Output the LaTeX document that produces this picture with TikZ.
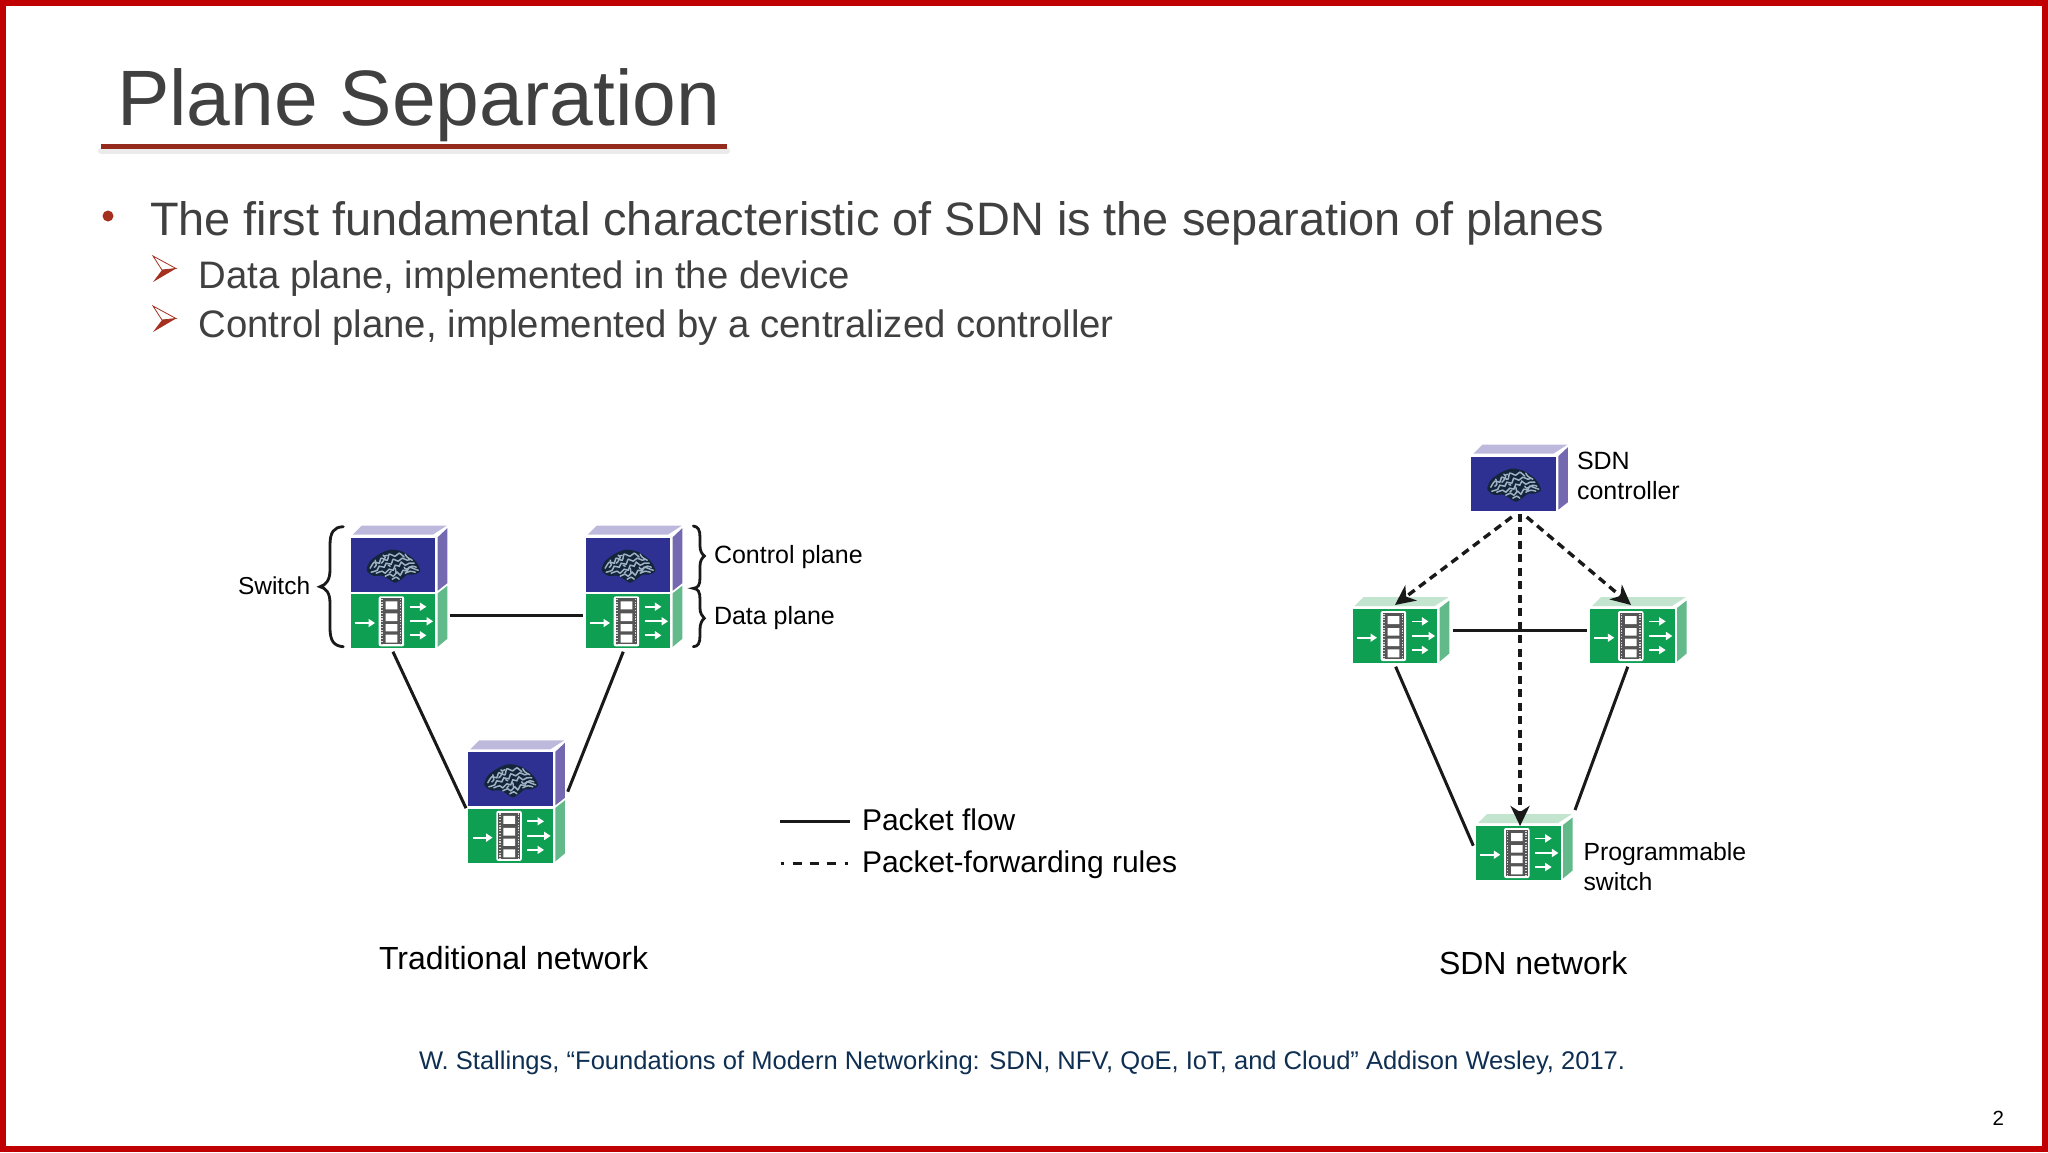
\documentclass[tikz,border=0pt]{standalone}
\usepackage{fontspec}
\setmainfont{Liberation Sans}
\usetikzlibrary{arrows.meta}
\definecolor{slidered}{HTML}{C00000}
\definecolor{rust}{HTML}{A5301F}
\definecolor{bodygrey}{HTML}{404040}
\definecolor{citeblue}{HTML}{0F2F52}
\definecolor{bfront}{HTML}{2E3192}
\definecolor{bside}{HTML}{7469B0}
\definecolor{btop}{HTML}{BDB9DC}
\definecolor{gfront}{HTML}{0E9F53}
\definecolor{gside}{HTML}{62B98A}
\definecolor{gtop}{HTML}{C3E4CF}
\definecolor{filmgrey}{HTML}{555555}
\definecolor{brainlight}{HTML}{9DB2C2}
\definecolor{braindark}{HTML}{14243A}
\newcommand{\fs}[1]{\fontsize{#1}{#1}\selectfont}
\newcommand{\ctrlbody}{%
    \node[frontface,fill=bfront] (-b) at (0,0) {};
    \fill[btop] (2,-3) -- (82,-3) -- (96,-12) -- (11,-12) -- cycle;
    \fill[bside] (87,-0.5) -- (96.6,-9.5) -- (96.6,45.5) -- (87,53) -- cycle;
    \pic at (42.5,28.5) {brain};
}
\newcommand{\databody}{%
    \node[frontface,fill=gfront] (-g) at (0,0) {};
    \fill[gside] (87,-1) -- (96.6,-8.5) -- (96.6,44.5) -- (87,52.5) -- cycle;
    \fill[white,rounded corners=2pt] (28,2) rectangle (53.5,52);
    \fill[filmgrey] (30,4) rectangle (51.5,50);
    \draw[white!85!black,line width=1.5pt,dash pattern=on 1.2pt off 1.6pt] (31.5,4.5) -- (31.5,49.5);
    \draw[white!85!black,line width=1.5pt,dash pattern=on 1.2pt off 1.6pt] (50,4.5) -- (50,49.5);
    \fill[white] (35,7) rectangle (46.7,15) (35,19) rectangle (46.7,26.7) (35,29.7) rectangle (46.7,37) (35,40.4) rectangle (46.7,48.4);
    \draw[flowarrow] (4.3,28.7) -- (24.3,28.7);
    \draw[flowarrow] (59,12.4) -- (75.7,12.4);
    \draw[flowarrow] (59,27) -- (82.4,27);
    \draw[flowarrow] (59,41) -- (75.7,41);
}
\tikzset{
  x=1pt,y=-1pt,
  txt/.style={inner sep=0pt,outer sep=0pt,anchor=base west},
  label/.style={txt,text=black,font=\fs{25}},
  caption/.style={txt,text=black,font=\fs{32}},
  legendtxt/.style={txt,text=black,font=\fs{30}},
  frontface/.style={rectangle,draw=none,inner sep=0pt,outer sep=0pt,anchor=north west,minimum width=84.5pt,minimum height=54pt},
  wire/.style={line width=3pt,black!90!white},
  rule/.style={line width=3.4pt,black!90!white,dash pattern=on 8pt off 5.5pt,-{Stealth[length=20pt,width=19pt,inset=6pt]}},
  bracepath/.style={line width=2.8pt,line cap=round,black!90!white},
  flowarrow/.style={line width=1.8pt,white,-{Triangle[length=6.5pt,width=8pt]}},
  wig/.style={line width=1.5pt,brainlight,line cap=round},
  brain/.pic={
    \fill[braindark] plot[smooth cycle] coordinates {(-26.5,4) (-23,-5) (-14,-12) (-3,-16.5) (8,-15) (17,-10) (24,-3) (27,5) (20,8.5) (14,8.5) (9,12.5) (2,16.5) (-5,12.5) (-11,9.5) (-20,9.5)};
    \draw[wig] plot[smooth] coordinates {(-23,2) (-19,-4) (-14,-3) (-12,-8) (-6,-6) (-4,-12) (2,-10) (6,-13) (11,-9)};
    \draw[wig] plot[smooth] coordinates {(-22,6) (-16,4) (-14,0) (-9,1) (-7,-3) (-2,-2) (0,-7) (5,-5) (9,-8) (14,-6) (17,-7)};
    \draw[wig] plot[smooth] coordinates {(-17,7) (-11,5) (-8,7) (-4,3) (0,4) (2,-1) (6,0) (8,-4) (12,-1) (16,-3) (21,-3)};
    \draw[wig] plot[smooth] coordinates {(-8,10) (-3,8) (0,10) (4,6) (7,9) (10,4) (14,5) (16,1) (22,3) (25,4)};
    \draw[wig] plot[smooth] coordinates {(-1,13) (3,11) (6,13)};
    \draw[wig] plot[smooth] coordinates {(12,7) (17,5) (22,6)};
    \draw[wig] plot[smooth] coordinates {(2,2) (3,7)};
    \draw[wig] plot[smooth] coordinates {(-12,-3) (-10,-5) (-8,-9)};
    \draw[wig] plot[smooth] coordinates {(12,-12) (14,-9) (19,-6)};
    \draw[wig] plot[smooth] coordinates {(-4,7) (-2,5)};
    \draw[wig] plot[smooth] coordinates {(-19,1) (-17,-1) (-18,-6)};
    \draw[wig] plot[smooth] coordinates {(-6,-11) (-9,-10) (-10,-11)};
    \draw[wig] plot[smooth] coordinates {(11,1) (13,3) (19,0) (23,1)};
    \draw[wig] plot[smooth] coordinates {(-3,0) (-5,-1)};
  },
  ctrlface/.pic={\ctrlbody},
  stacked/.pic={
    \ctrlbody
    \begin{scope}[shift={(0,56.6)}]\databody\end{scope}
  },
  greenonly/.pic={
    \fill[gtop] (2,-3) -- (82,-3) -- (96,-12) -- (11,-12) -- cycle;
    \databody
  },
  arrowbullet/.pic={
    \draw[rust,line width=0.8pt,fill=white] (0,0) -- (23,12.5) -- (9,14) -- cycle;
    \fill[rust] (9,14) -- (23,12.5) -- (0,26) -- cycle;
  }
}
\begin{document}
\begin{tikzpicture}
\useasboundingbox (0,0) rectangle (2048,1152);
\fill[white] (0,0) rectangle (2048,1152);
\draw[slidered,line width=6pt] (3,3) rectangle (2045,1149);
% title
\node[txt,text=bodygrey,font=\fs{78.6}] (title) at (117,125) {Plane Separation};
\draw[black,opacity=0.08,line width=6pt,line cap=round] (101,150.5) -- (727,150.5);
\draw[rust!90!black,line width=4.5pt] (101,146.7) -- (727,146.7);
% body
\fill[rust] (108,216) circle (5.5);
\node[txt,text=bodygrey,font=\fs{46.9}] (b1) at (150,235) {The first fundamental characteristic of SDN is the separation of planes};
\pic at (153,256) {arrowbullet};
\node[txt,text=bodygrey,font=\fs{38.3}] (b2) at (198.5,288) {Data plane, implemented in the device};
\pic at (153,306) {arrowbullet};
\node[txt,text=bodygrey,font=\fs{38.3}] (b3) at (198.5,337) {Control plane, implemented by a centralized controller};
% traditional network
\pic (sw1) at (350.7,537.7) {stacked};
\pic (sw2) at (585.7,537.7) {stacked};
\pic (sw3) at (468.3,752.3) {stacked};
\draw[wire] ([xshift=14.8pt,yshift=6.3pt]sw1-g.east) -- ([xshift=-2.4pt,yshift=6.3pt]sw2-g.west);
\draw[wire] ([yshift=-3.4pt]sw1-g.south) -- ([xshift=-2.3pt,yshift=0.7pt]sw3-g.north west);
\draw[wire] ([xshift=-4.7pt,yshift=-3.4pt]sw2-g.south) -- ([xshift=14.9pt,yshift=14.6pt]sw3-b.south east);
\draw[bracepath] (343.3,526.7) .. controls (334,527) and (330,532) .. (330,545) -- (330,570) .. controls (330,580) and (326,585) .. (320,586.7) .. controls (326,588) and (330,593) .. (330,603) -- (330,628) .. controls (330,641) and (334,646) .. (343.3,646.7);
\draw[bracepath] (693.3,526) .. controls (698,526.5) and (700,530) .. (700,537) -- (700,546) .. controls (700,551) and (702,554) .. (704.3,556) .. controls (702,558) and (700,561) .. (700,566) -- (700,578) .. controls (700,585) and (698,588) .. (693.3,588.3) .. controls (698,588.6) and (700,592) .. (700,599) -- (700,608) .. controls (700,613) and (702,616) .. (704.3,618.3) .. controls (702,620) and (700,624) .. (700,629) -- (700,636) .. controls (700,643) and (698,646.5) .. (693.3,646.7);
\node[txt,text=black,font=\fs{24.5}] (switchlbl) at (238,594.3) {Switch};
\node[label] (cplbl) at (714,563.3) {Control plane};
\node[label] (dplbl) at (714,624) {Data plane};
\node[caption] (tradcap) at (379,969) {Traditional network};
% legend
\coordinate (la) at (780,821.7);
\coordinate (lb) at (850,821.7);
\coordinate (lc) at (780.5,863.3);
\coordinate (ld) at (850,863.3);
\draw[line width=3pt,black!90!white] (la) -- (lb);
\draw[line width=3pt,black!90!white,dash pattern=on 3pt off 9pt on 9pt off 8pt on 9pt off 8pt on 9pt off 9pt on 3pt off 20pt] (lc) -- (ld);
\node[legendtxt] (pf) at (862,830) {Packet flow};
\node[legendtxt] (pfr) at (862,872.7) {Packet-forwarding rules};
% SDN network
\pic (ctl) at (1471.3,456.7) {ctrlface};
\pic (s1) at (1352.7,609) {greenonly};
\pic (s2) at (1590,609) {greenonly};
\pic (s3) at (1476,826) {greenonly};
\draw[wire] ([xshift=15.5pt,yshift=6pt]s1-g.east) -- ([xshift=-2.7pt,yshift=6pt]s2-g.west);
\draw[wire] ([xshift=0.7pt,yshift=-3.7pt]s1-g.south) -- ([xshift=-2.7pt,yshift=7.3pt]s3-g.west);
\draw[wire] ([xshift=-4.5pt,yshift=-3.7pt]s2-g.south) -- ([xshift=14.5pt,yshift=16pt]s3-g.north east);
\draw[rule] ([xshift=6.5pt,yshift=-3pt]ctl-b.south) -- ([xshift=1.8pt]s3-g.north);
\draw[rule] ([xshift=-1.8pt,yshift=-6.3pt]ctl-b.south) -- ([yshift=4pt]s1-g.north);
\draw[rule] ([xshift=13.2pt,yshift=-6.3pt]ctl-b.south) -- ([xshift=-1.2pt,yshift=4pt]s2-g.north);
\node[label] (sdn1) at (1577,469.3) {SDN};
\node[label] (sdn2) at (1577,499.3) {controller};
\node[txt,text=black,font=\fs{24.8}] (prog1) at (1583.5,860) {Programmable};
\node[txt,text=black,font=\fs{24.8}] (prog2) at (1583.5,890) {switch};
\node[caption] (sdncap) at (1439,974) {SDN network};
% footer
\node[txt,text=citeblue,font=\fs{25.55}] (cite) at (419,1069.3) {W. Stallings, “Foundations of Modern Networking: SDN, NFV, QoE, IoT, and Cloud” Addison Wesley, 2017.};
\node[txt,text=black,font=\fs{20.5}] (page) at (1992.5,1125) {2};
\end{tikzpicture}
\end{document}
